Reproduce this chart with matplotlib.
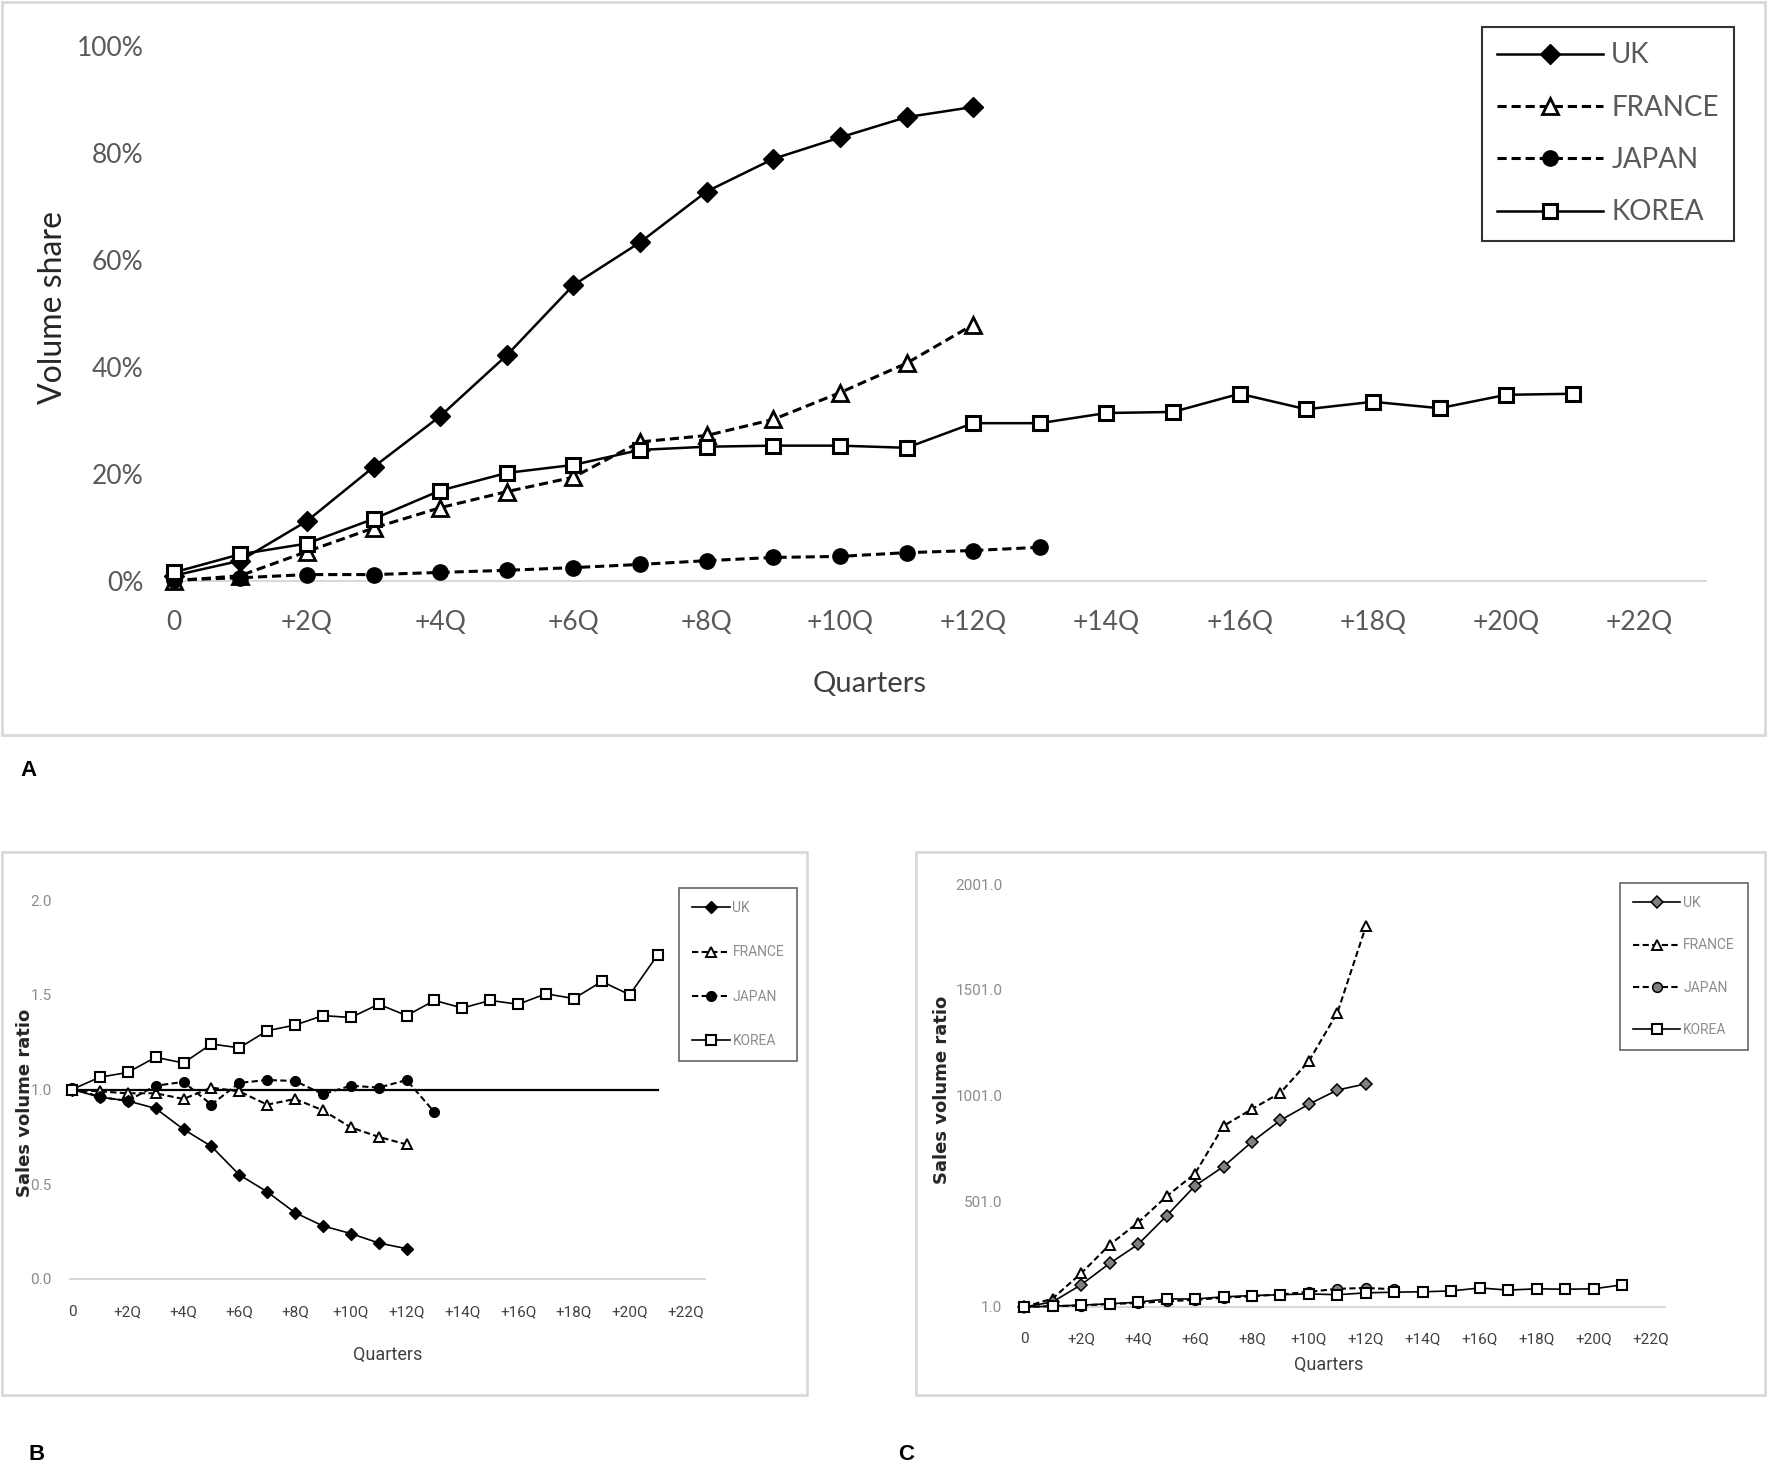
import matplotlib
matplotlib.use("Agg")
import matplotlib.pyplot as plt
from matplotlib import font_manager
from matplotlib.patches import Rectangle

#### Data

countries = ["UK", "FRANCE", "JAPAN", "KOREA"]
tick_pos = list(range(0, 23, 2))
tick_labels = ["0"] + ["+%dQ" % q for q in range(2, 23, 2)]

# A: volume share (fraction)
share_uk = [0.01, 0.038, 0.112, 0.213, 0.308, 0.422, 0.553, 0.633, 0.728, 0.789, 0.829, 0.867, 0.886]
share_france = [0.0, 0.01, 0.055, 0.099, 0.137, 0.167, 0.194, 0.26, 0.272, 0.302, 0.352, 0.407, 0.479]
share_japan = [0.002, 0.006, 0.012, 0.012, 0.016, 0.02, 0.025, 0.031, 0.038, 0.044, 0.046, 0.053, 0.057, 0.063]
share_korea = [0.016, 0.05, 0.07, 0.116, 0.169, 0.202, 0.217, 0.245, 0.251, 0.253, 0.253, 0.249, 0.295,
               0.295, 0.314, 0.316, 0.35, 0.321, 0.335, 0.323, 0.348, 0.35]

# B: sales volume ratio
ratio_uk = [1.0, 0.96, 0.94, 0.90, 0.79, 0.70, 0.55, 0.46, 0.35, 0.28, 0.24, 0.19, 0.16]
ratio_france = [1.0, 0.99, 0.98, 0.98, 0.95, 1.01, 0.99, 0.92, 0.95, 0.89, 0.80, 0.75, 0.71]
ratio_japan = [1.01, 0.96, 0.94, 1.02, 1.04, 0.92, 1.035, 1.05, 1.045, 0.975, 1.02, 1.01, 1.05, 0.88]
ratio_korea = [1.0, 1.065, 1.09, 1.17, 1.14, 1.24, 1.22, 1.31, 1.34, 1.39, 1.38, 1.45, 1.39, 1.47,
               1.43, 1.47, 1.45, 1.505, 1.48, 1.57, 1.50, 1.71]
ratio_ref = [1.0, 1.0]
ratio_ref_x = [0, 21]

# C: sales volume ratio (indexed to 1)
vol_uk = [1, 25, 106, 207, 297, 432, 574, 665, 782, 884, 960, 1027, 1056]
vol_france = [1, 41, 160, 295, 400, 524, 632, 857, 937, 1014, 1164, 1393, 1801]
vol_japan = [1, 5, 8, 15, 20, 28, 35, 45, 52, 60, 73, 87, 91, 85]
vol_korea = [1, 5, 10, 16, 24, 39, 39, 49, 55, 59, 63, 59, 68, 71, 73, 77, 91, 81, 87, 85, 87, 106]

#### Fonts

names = {f.name for f in font_manager.fontManager.ttflist}
narrow = "Liberation Sans Narrow" if "Liberation Sans Narrow" in names else "Roboto"
wide = "Lato" if "Lato" in names else "DejaVu Sans"

W, H = 1767, 1469
fig = plt.figure(figsize=(W / 100, H / 100), dpi=100)


def fx(px):
    return px / W


def fy(py):
    return 1 - py / H


# light grey panel frames
for x0, y0, x1, y1 in [(2, 2, 1765, 735), (2, 852, 807, 1395), (916, 852, 1765, 1395)]:
    fig.patches.append(Rectangle((fx(x0), fy(y1)), fx(x1) - fx(x0), fy(y0) - fy(y1),
                                 transform=fig.transFigure, fill=False,
                                 edgecolor="#d9d9d9", linewidth=2))


def style_axes(ax):
    for s in ["top", "right", "left"]:
        ax.spines[s].set_visible(False)
    ax.spines["bottom"].set_color("#d9d9d9")
    ax.spines["bottom"].set_linewidth(1.5)
    ax.tick_params(length=0)
    ax.set_facecolor("none")


#### Panel A

axA = fig.add_axes([fx(167), fy(581), fx(1706) - fx(167), fy(46) - fy(581)])
style_axes(axA)
lw, ms = 1.8, 11
axA.plot(range(len(share_uk)), share_uk, "-", color="black", lw=lw, marker="D", ms=ms - 1,
         mfc="black", mec="black", clip_on=False, label="UK", zorder=4)
axA.plot(range(len(share_france)), share_france, "--", color="black", lw=lw + 0.4, marker="^", ms=ms + 1,
         mfc="white", mec="black", mew=2, clip_on=False, label="FRANCE", dashes=(3, 1.6), zorder=3)
axA.plot(range(len(share_japan)), share_japan, "--", color="black", lw=lw + 0.4, marker="o", ms=ms,
         mfc="black", mec="black", clip_on=False, label="JAPAN", dashes=(3, 1.6), zorder=3)
axA.plot(range(len(share_korea)), share_korea, "-", color="black", lw=lw, marker="s", ms=ms - 1,
         mfc="white", mec="black", mew=2.2, clip_on=False, label="KOREA", zorder=5)
axA.set_xlim(-0.1, 23)
axA.set_ylim(0, 1.0)
axA.set_yticks([0, 0.2, 0.4, 0.6, 0.8, 1.0])
axA.set_yticklabels(["0%", "20%", "40%", "60%", "80%", "100%"], fontsize=19, color="#595959", family=wide)
axA.set_xticks(tick_pos)
axA.set_xticklabels(tick_labels, fontsize=19, color="#595959", family=wide)
axA.tick_params(axis="y", pad=17)
axA.tick_params(axis="x", pad=21)
fig.text(fx(53), fy(307), "Volume share", fontsize=23, color="#262626", family=wide,
         rotation=90, ha="center", va="center")
fig.text(fx(870), fy(684), "Quarters", fontsize=21, color="#404040", family=wide,
         ha="center", va="center")
legA = axA.legend(loc="upper left", bbox_to_anchor=(fx(1482), fy(27)), bbox_transform=fig.transFigure,
                  borderaxespad=0, fancybox=False, edgecolor="black", handlelength=3.8,
                  labelspacing=0.95, borderpad=0.55, handletextpad=0.3, labelcolor="#595959",
                  prop={"family": wide, "size": 20})
legA.get_frame().set_linewidth(1.5)

#### Panel B

axB = fig.add_axes([fx(70), fy(1279), fx(705) - fx(70), fy(900) - fy(1279)])
style_axes(axB)
lw, ms = 1.2, 6.5
axB.plot(ratio_ref_x, ratio_ref, "-", color="black", lw=1.6, zorder=2)
axB.plot(range(len(ratio_uk)), ratio_uk, "-", color="black", lw=lw, marker="D", ms=ms - 0.5,
         mfc="black", mec="black", clip_on=False, label="UK", zorder=4)
axB.plot(range(len(ratio_france)), ratio_france, "--", color="black", lw=lw + 0.3, marker="^", ms=ms + 1,
         mfc="white", mec="black", mew=1.4, clip_on=False, label="FRANCE", dashes=(3, 1.6), zorder=3)
axB.plot(range(len(ratio_japan)), ratio_japan, "--", color="black", lw=lw + 0.3, marker="o", ms=ms + 0.5,
         mfc="black", mec="black", clip_on=False, label="JAPAN", dashes=(3, 1.6), zorder=3)
axB.plot(range(len(ratio_korea)), ratio_korea, "-", color="black", lw=lw, marker="s", ms=ms,
         mfc="white", mec="black", mew=1.5, clip_on=False, label="KOREA", zorder=5)
axB.set_xlim(-0.07, 22.7)
axB.set_ylim(0, 2.0)
axB.set_yticks([0, 0.5, 1.0, 1.5, 2.0])
axB.set_yticklabels(["0.0", "0.5", "1.0", "1.5", "2.0"], fontsize=11, color="#8c8c8c", family=narrow)
axB.set_xticks(tick_pos)
axB.set_xticklabels(tick_labels, fontsize=11, color="#404040", family=narrow)
axB.tick_params(axis="y", pad=13)
axB.tick_params(axis="x", pad=19)
fig.text(fx(25), fy(1103), "Sales volume ratio", fontsize=13, color="#262626", family="DejaVu Sans",
         fontweight="bold", rotation=90, ha="center", va="center")
fig.text(fx(388), fy(1355), "Quarters", fontsize=13, color="#404040", family=narrow,
         ha="center", va="center")
legB = axB.legend(loc="upper left", bbox_to_anchor=(fx(679), fy(888)), bbox_transform=fig.transFigure,
                  borderaxespad=0, fancybox=False, edgecolor="#404040", handlelength=2.7,
                  labelspacing=2.18, borderpad=0.95, handletextpad=0.2, labelcolor="#8c8c8c",
                  prop={"family": narrow, "size": 10})
legB.get_frame().set_linewidth(1.2)

#### Panel C

axC = fig.add_axes([fx(1019), fy(1307), fx(1665) - fx(1019), fy(884) - fy(1307)])
style_axes(axC)
axC.plot(range(len(vol_uk)), vol_uk, "-", color="black", lw=lw, marker="D", ms=ms,
         mfc="#808080", mec="black", mew=1.1, clip_on=False, label="UK", zorder=4)
axC.plot(range(len(vol_france)), vol_france, "--", color="black", lw=lw + 0.3, marker="^", ms=ms + 1,
         mfc="white", mec="black", mew=1.4, clip_on=False, label="FRANCE", dashes=(3, 1.6), zorder=3)
axC.plot(range(len(vol_japan)), vol_japan, "--", color="black", lw=lw + 0.3, marker="o", ms=ms + 0.5,
         mfc="#808080", mec="black", mew=1.1, clip_on=False, label="JAPAN", dashes=(3, 1.6), zorder=3)
axC.plot(range(len(vol_korea)), vol_korea, "-", color="black", lw=lw, marker="s", ms=ms,
         mfc="white", mec="black", mew=1.5, clip_on=False, label="KOREA", zorder=5)
axC.set_xlim(-0.18, 22.5)
axC.set_ylim(1, 2001)
axC.set_yticks([1, 501, 1001, 1501, 2001])
axC.set_yticklabels(["1.0", "501.0", "1001.0", "1501.0", "2001.0"], fontsize=11, color="#8c8c8c", family=narrow)
axC.set_xticks(tick_pos)
axC.set_xticklabels(tick_labels, fontsize=11, color="#404040", family=narrow)
axC.tick_params(axis="y", pad=12)
axC.tick_params(axis="x", pad=18)
fig.text(fx(942), fy(1090), "Sales volume ratio", fontsize=13, color="#262626", family="DejaVu Sans",
         fontweight="bold", rotation=90, ha="center", va="center")
fig.text(fx(1329), fy(1365), "Quarters", fontsize=13, color="#404040", family=narrow,
         ha="center", va="center")
legC = axC.legend(loc="upper left", bbox_to_anchor=(fx(1620), fy(883)), bbox_transform=fig.transFigure,
                  borderaxespad=0, fancybox=False, edgecolor="#404040", handlelength=3.4,
                  labelspacing=2.03, borderpad=0.95, handletextpad=0.2, labelcolor="#8c8c8c",
                  prop={"family": narrow, "size": 10})
legC.get_frame().set_linewidth(1.2)

#### Panel letters

for txt, x, y in [("A", 28, 770), ("B", 37, 1455), ("C", 906, 1455)]:
    fig.text(fx(x), fy(y), txt, fontsize=16, fontweight="bold", family="Liberation Sans",
             ha="center", va="center")

fig.savefig("out.png", dpi=100)
